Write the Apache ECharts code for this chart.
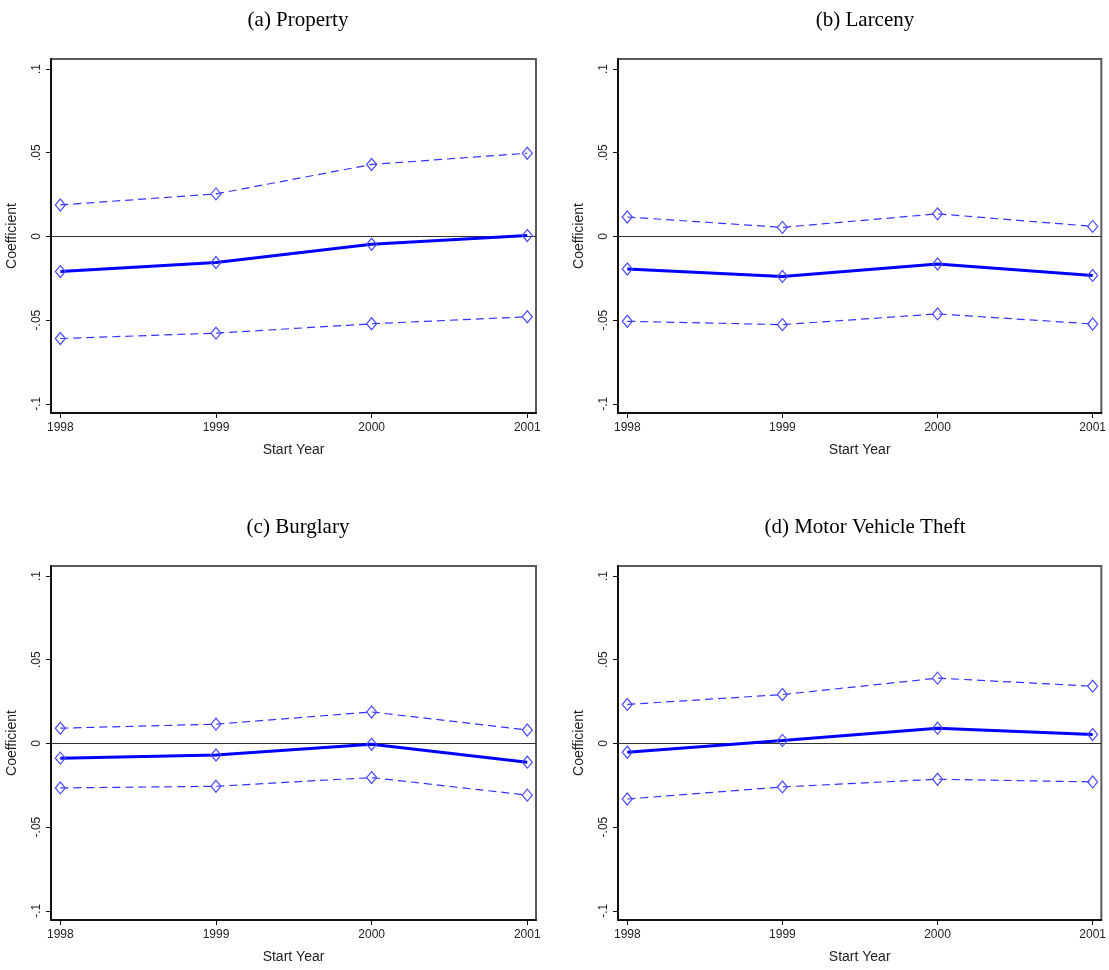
<!DOCTYPE html>
<html lang="en">
<head>
    <meta charset="utf-8">
    <title>Start Year Coefficients</title>
    <style>
* {
  margin: 0;
  padding: 0;
}
#chart-container {
  position: relative;
  width: 1109px;
  height: 970px;
  overflow: hidden;
  background: #fff;
}
    </style>
</head>
<body>
<div id="chart-container"></div>
<script src="https://fastly.jsdelivr.net/npm/echarts@6/dist/echarts.min.js"></script>
<script>
// data
var years = [1998, 1999, 2000, 2001];
var panelTitles = ['(a) Property', '(b) Larceny', '(c) Burglary', '(d) Motor Vehicle Theft'];

var propertyCoef  = [-0.0210, -0.0156, -0.0047, 0.0005];
var propertyUpper = [0.0188, 0.0254, 0.0430, 0.0497];
var propertyLower = [-0.0610, -0.0578, -0.0522, -0.0480];

var larcenyCoef  = [-0.0195, -0.0239, -0.0165, -0.0233];
var larcenyUpper = [0.0116, 0.0054, 0.0135, 0.0060];
var larcenyLower = [-0.0507, -0.0527, -0.0463, -0.0523];

var burglaryCoef  = [-0.0088, -0.0069, -0.0005, -0.0112];
var burglaryUpper = [0.0091, 0.0115, 0.0188, 0.0080];
var burglaryLower = [-0.0266, -0.0256, -0.0204, -0.0309];

var mvtCoef  = [-0.0053, 0.0018, 0.0091, 0.0053];
var mvtUpper = [0.0233, 0.0292, 0.0390, 0.0342];
var mvtLower = [-0.0332, -0.0260, -0.0214, -0.0230];

var yTickValues = [-0.1, -0.05, 0, 0.05, 0.1];
var yTickLabels = ['-.1', '-.05', '0', '.05', '.1'];

var panels = [
  [propertyCoef, propertyUpper, propertyLower],
  [larcenyCoef, larcenyUpper, larcenyLower],
  [burglaryCoef, burglaryUpper, burglaryLower],
  [mvtCoef, mvtUpper, mvtLower]
];

var dom = document.getElementById('chart-container');
var myChart = echarts.init(dom, null, { renderer: 'canvas' });

var gridPos = [
  { left: 51, top: 59 },
  { left: 618, top: 59 },
  { left: 51, top: 566 },
  { left: 618, top: 566 }
];

function pairs(vals) {
  return years.map(function (y, i) { return [y, vals[i]]; });
}

function yLabel(v) {
  for (var i = 0; i < yTickValues.length; i++) {
    if (Math.abs(yTickValues[i] - v) < 1e-9) return yTickLabels[i];
  }
  return '';
}

var grids = [], xAxes = [], yAxes = [], series = [], titles = [];

gridPos.forEach(function (p, k) {
  grids.push({
    left: p.left, top: p.top, width: 485, height: 354,
    show: true, borderColor: '#5a5a5a', borderWidth: 2, backgroundColor: '#fff'
  });
  titles.push({
    text: panelTitles[k],
    left: p.left + 242, top: p.top - 54, textAlign: 'center',
    textStyle: { fontFamily: 'Liberation Serif', fontSize: 21, fontWeight: 'normal', color: '#000' }
  });
  xAxes.push({
    gridIndex: k, type: 'value', min: 1997.94, max: 2001.056,
    splitLine: { show: false },
    axisLine: { onZero: false, lineStyle: { color: '#111', width: 2 } },
    axisTick: { customValues: years, length: 5, lineStyle: { color: '#111', width: 1 } },
    axisLabel: {
      customValues: years, margin: 9, color: '#222',
      fontFamily: 'Liberation Sans', fontSize: 12,
      formatter: function (v) { return String(v); }
    },
    name: 'Start Year', nameLocation: 'middle', nameGap: 30,
    nameTextStyle: { fontFamily: 'Liberation Sans', fontSize: 14, color: '#222' }
  });
  yAxes.push({
    gridIndex: k, type: 'value', min: -0.1055, max: 0.106,
    splitLine: { show: false },
    axisLine: { show: true, lineStyle: { color: '#111', width: 2 } },
    axisTick: { customValues: yTickValues, length: 5, lineStyle: { color: '#111', width: 1 } },
    axisLabel: {
      customValues: yTickValues, rotate: 90, margin: 8, color: '#222',
      fontFamily: 'Liberation Sans', fontSize: 12,
      formatter: yLabel
    },
    name: 'Coefficient', nameLocation: 'middle', nameGap: 32,
    nameTextStyle: { fontFamily: 'Liberation Sans', fontSize: 14, color: '#222' }
  });

  var d = panels[k];
  var marker = {
    symbol: 'diamond', symbolSize: [10, 12], showSymbol: true,
    itemStyle: { color: 'rgba(0,0,0,0)', borderColor: '#4a4aff', borderWidth: 1.2 }
  };
  series.push(Object.assign({
    type: 'line', xAxisIndex: k, yAxisIndex: k, data: pairs(d[1]),
    lineStyle: { color: '#3333ff', width: 1.2, type: [8, 5] },
    silent: true, z: 3
  }, marker));
  series.push(Object.assign({
    type: 'line', xAxisIndex: k, yAxisIndex: k, data: pairs(d[2]),
    lineStyle: { color: '#3333ff', width: 1.2, type: [8, 5] },
    silent: true, z: 3
  }, marker));
  series.push(Object.assign({
    type: 'line', xAxisIndex: k, yAxisIndex: k, data: pairs(d[0]),
    lineStyle: { color: '#0000ff', width: 3 },
    silent: true, z: 4,
    markLine: {
      silent: true, symbol: ['none', 'none'], label: { show: false },
      lineStyle: { color: '#333', width: 1, type: 'solid' },
      data: [{ yAxis: 0 }], z: 2
    }
  }, marker));
});

var option = {
  animation: false,
  backgroundColor: '#fff',
  title: titles,
  grid: grids,
  xAxis: xAxes,
  yAxis: yAxes,
  series: series
};

myChart.setOption(option);
window.addEventListener('resize', myChart.resize);
</script>
</body>
</html>
